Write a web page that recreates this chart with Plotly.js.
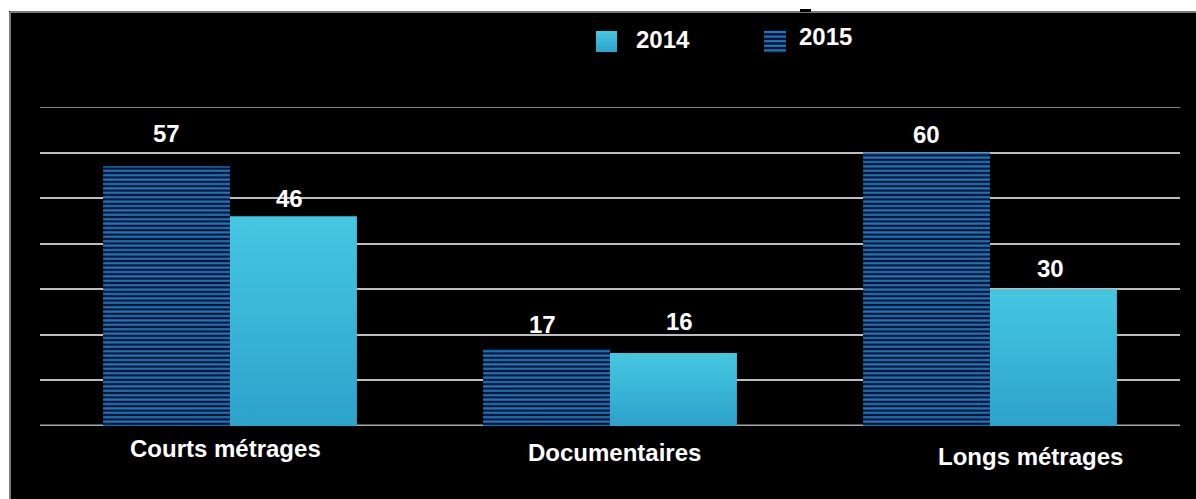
<!DOCTYPE html>
<html>
<head>
<meta charset="utf-8">
<script src="https://cdn.plot.ly/plotly-3.0.1.min.js"></script>
<style>html,body{margin:0;padding:0;background:#fff;}#chart{width:1196px;height:499px;}</style>
</head>
<body>
<div id="chart"></div>
<script>
// ---- data ----
const categories = ['Courts métrages', 'Documentaires', 'Longs métrages'];
const seriesNames = ['2014', '2015'];
const values2014 = [46, 16, 30];
const values2015 = [57, 17, 60];

// ---- style / layout constants ----
const W = 1196, H = 499;
const M = {l: 40, r: 16, t: 107, b: 73};
const plotW = W - M.l - M.r, plotH = H - M.t - M.b;
const px = x => (x - M.l) / plotW;           // pixel x -> paper x
const py = y => (H - M.b - y) / plotH;       // pixel y -> paper y
const FONT = {family: 'Liberation Sans, Arial, sans-serif', size: 24, color: '#ffffff', weight: 'bold'};
const C2014 = '#3ab7da';
const C2014_TOP = '#45c7e1';
const C2014_BOT = '#2da2cb';
const C2015_FG = '#1a78cc';
const C2015_BG = '#03101f';
const GRID = '#bdbdbd';
const BAR_W = 0.334;
// label offsets (pixels) for value labels: [dx, dy above bar top]
const shift2015 = [[0, 33], [-4, 24], [0, 18]];
const shift2014 = [[-4, 18], [6, 32], [-3, 21]];
// category label offsets: [dx, dy below baseline]
const catShift = [[-5, 22], [4, 26], [40, 30]];

const traces = [
  {
    type: 'bar', name: seriesNames[1], x: categories, y: values2015,
    width: BAR_W, offset: -BAR_W,
    marker: {color: C2015_BG, line: {width: 0},
      pattern: {shape: '-', fgcolor: C2015_FG, bgcolor: C2015_BG, size: 4.4, solidity: 0.5, fillmode: 'replace'}},
    hoverinfo: 'none', showlegend: false
  },
  {
    type: 'bar', name: seriesNames[0], x: categories, y: values2014,
    width: BAR_W, offset: 0,
    marker: {color: C2014, line: {width: 0}},
    hoverinfo: 'none', showlegend: false
  }
];

const annotations = [];
values2015.forEach((v, i) => annotations.push({
  x: i - BAR_W / 2, y: v, xref: 'x', yref: 'y', text: String(v), showarrow: false,
  xanchor: 'center', yanchor: 'middle', xshift: shift2015[i][0], yshift: shift2015[i][1], font: FONT
}));
values2014.forEach((v, i) => annotations.push({
  x: i + BAR_W / 2, y: v, xref: 'x', yref: 'y', text: String(v), showarrow: false,
  xanchor: 'center', yanchor: 'middle', xshift: shift2014[i][0], yshift: shift2014[i][1], font: FONT
}));
categories.forEach((c, i) => annotations.push({
  x: i, y: 0, xref: 'x', yref: 'y', text: c, showarrow: false,
  xanchor: 'center', yanchor: 'middle', xshift: catShift[i][0], yshift: -catShift[i][1], font: FONT
}));
// legend texts
annotations.push({x: px(634), y: py(40), xref: 'paper', yref: 'paper', text: seriesNames[0], showarrow: false,
  xanchor: 'left', yanchor: 'middle', font: FONT});
annotations.push({x: px(797), y: py(36), xref: 'paper', yref: 'paper', text: seriesNames[1], showarrow: false,
  xanchor: 'left', yanchor: 'middle', font: FONT});

const shapes = [];
// frame: white strips at top/left, grey border
shapes.push({type: 'rect', xref: 'paper', yref: 'paper', x0: px(0), x1: px(W), y0: py(0), y1: py(11), fillcolor: '#ffffff', line: {width: 0}, layer: 'above'});
shapes.push({type: 'rect', xref: 'paper', yref: 'paper', x0: px(0), x1: px(9), y0: py(0), y1: py(H), fillcolor: '#ffffff', line: {width: 0}, layer: 'above'});
shapes.push({type: 'line', xref: 'paper', yref: 'paper', x0: px(10), x1: px(W), y0: py(12), y1: py(12), line: {color: '#7a7a7a', width: 2}, layer: 'above'});
shapes.push({type: 'line', xref: 'paper', yref: 'paper', x0: px(10), x1: px(10), y0: py(12), y1: py(H), line: {color: '#7a7a7a', width: 2}, layer: 'above'});
shapes.push({type: 'rect', xref: 'paper', yref: 'paper', x0: px(800), x1: px(811), y0: py(9), y1: py(12), fillcolor: '#000000', line: {width: 0}, layer: 'above'});
// darker top grid line and baseline
shapes.push({type: 'line', xref: 'paper', yref: 'y', x0: 0, x1: 1, y0: 70, y1: 70, line: {color: '#808080', width: 2}, layer: 'below'});
shapes.push({type: 'line', xref: 'paper', yref: 'y', x0: 0, x1: 1, y0: 0, y1: 0, line: {color: '#a8a8a8', width: 3}, layer: 'below'});
// legend markers
shapes.push({type: 'rect', xref: 'paper', yref: 'paper', x0: px(596), x1: px(617), y0: py(52), y1: py(31), fillcolor: C2014, line: {width: 0}});
shapes.push({type: 'rect', xref: 'paper', yref: 'paper', x0: px(764), x1: px(786), y0: py(53), y1: py(31), fillcolor: C2015_BG, line: {width: 0}});
[32, 36.6, 41.2, 45.8, 50.4].forEach(yy => shapes.push({type: 'line', xref: 'paper', yref: 'paper',
  x0: px(764), x1: px(786), y0: py(yy), y1: py(yy), line: {color: C2015_FG, width: 2.2}}));

const layout = {
  width: W, height: H,
  margin: M,
  paper_bgcolor: '#000000', plot_bgcolor: '#000000',
  showlegend: false,
  barmode: 'group',
  xaxis: {type: 'category', showgrid: false, showticklabels: false, zeroline: false, showline: false, ticks: '',
    range: [-0.5, 2.5], fixedrange: true},
  yaxis: {range: [0, 70], dtick: 10, tick0: 0, showticklabels: false, ticks: '', zeroline: false, showline: false,
    gridcolor: GRID, gridwidth: 2, fixedrange: true},
  font: FONT,
  annotations: annotations,
  shapes: shapes
};

Plotly.newPlot('chart', traces, layout, {staticPlot: true, displayModeBar: false}).then(gd => {
  // vertical gradient for the 2014 fill (bars + legend swatch)
  const svg = gd.querySelector('svg.main-svg');
  const NS = 'http://www.w3.org/2000/svg';
  let defs = svg.querySelector('defs');
  if (!defs) { defs = document.createElementNS(NS, 'defs'); svg.insertBefore(defs, svg.firstChild); }
  const g = document.createElementNS(NS, 'linearGradient');
  g.setAttribute('id', 'grad2014');
  g.setAttribute('x1', '0'); g.setAttribute('y1', '0'); g.setAttribute('x2', '0'); g.setAttribute('y2', '1');
  [[0, C2014_TOP], [1, C2014_BOT]].forEach(([o, c]) => {
    const s = document.createElementNS(NS, 'stop');
    s.setAttribute('offset', o); s.setAttribute('stop-color', c);
    g.appendChild(s);
  });
  defs.appendChild(g);
  const target = 'rgb(58, 183, 218)';
  gd.querySelectorAll('path').forEach(p => {
    if (p.style.fill === target) p.style.fill = 'url(#grad2014)';
  });
});
</script>
</body>
</html>
